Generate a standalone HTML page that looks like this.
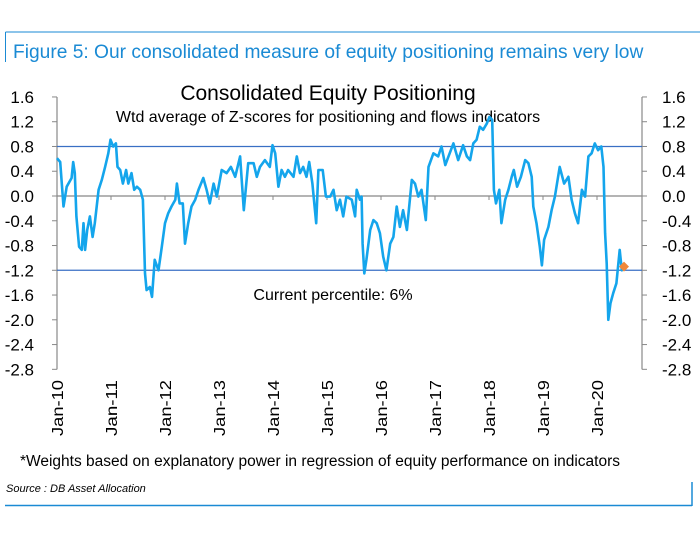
<!DOCTYPE html>
<html><head><meta charset="utf-8"><style>
body{margin:0;background:#fff;width:700px;height:536px;overflow:hidden;font-family:"Liberation Sans",sans-serif}
</style></head><body>
<svg width="700" height="536" viewBox="0 0 700 536" style="font-family:'Liberation Sans',sans-serif">
<g id="frame">
<line x1="5.5" y1="32" x2="700" y2="32" stroke="#1a8ad4" stroke-width="1"/>
<line x1="5.5" y1="32" x2="5.5" y2="62" stroke="#1a8ad4" stroke-width="1"/>
<line x1="5" y1="505.5" x2="692" y2="505.5" stroke="#1a8ad4" stroke-width="1.5"/>
<line x1="692" y1="482" x2="692" y2="506" stroke="#1a8ad4" stroke-width="1.5"/>
</g>
<text x="13" y="58" font-size="19.2" fill="#1a8ad4">Figure 5: Our consolidated measure of equity positioning remains very low</text>
<text x="328" y="100" font-size="21" text-anchor="middle" fill="#000">Consolidated Equity Positioning</text>
<text x="328" y="122" font-size="16" text-anchor="middle" fill="#000">Wtd average of Z-scores for positioning and flows indicators</text>
<text x="333" y="300" font-size="16" text-anchor="middle" fill="#000">Current percentile: 6%</text>
<text x="20" y="466" font-size="15.5" fill="#000" textLength="600" lengthAdjust="spacingAndGlyphs">*Weights based on explanatory power in regression of equity performance on indicators</text>
<text x="6" y="492" font-size="11" font-style="italic" fill="#000">Source : DB Asset Allocation</text>
<g id="chart"></g>
</svg>
<script>
const tickValues=[1.6,1.2,0.8,0.4,0.0,-0.4,-0.8,-1.2,-1.6,-2.0,-2.4,-2.8];
const tickLabels=["1.6","1.2","0.8","0.4","0.0","-0.4","-0.8","-1.2","-1.6","-2.0","-2.4","-2.8"];
const yearLabels=["Jan-10","Jan-11","Jan-12","Jan-13","Jan-14","Jan-15","Jan-16","Jan-17","Jan-18","Jan-19","Jan-20"];
const refLines=[0.8,-1.2];
const seriesT=[0.00,.06,.12,.18,.27,.30,.33,.36,.41,.46,.49,.52,.56,.61,.66,.70,.77,.83,.89,.95,.99,1.04,1.09,1.12,1.17,1.22,1.28,1.32,1.38,1.43,1.48,1.54,1.59,1.63,1.66,1.72,1.76,1.81,1.88,1.94,2.00,2.06,2.12,2.19,2.22,2.27,2.33,2.37,2.43,2.49,2.56,2.62,2.71,2.77,2.83,2.90,2.96,3.05,3.14,3.22,3.30,3.39,3.46,3.54,3.64,3.70,3.76,3.85,3.94,3.99,4.04,4.10,4.16,4.22,4.28,4.38,4.44,4.50,4.56,4.62,4.67,4.73,4.80,4.84,4.92,4.98,5.06,5.12,5.18,5.24,5.30,5.36,5.46,5.52,5.55,5.61,5.64,5.66,5.69,5.73,5.80,5.86,5.92,5.98,6.04,6.10,6.17,6.23,6.29,6.35,6.41,6.48,6.57,6.63,6.69,6.75,6.83,6.88,6.97,7.06,7.12,7.19,7.25,7.34,7.43,7.52,7.59,7.65,7.71,7.77,7.83,7.89,7.96,8.01,8.06,8.09,8.13,8.19,8.23,8.30,8.36,8.42,8.46,8.52,8.59,8.67,8.73,8.79,8.82,8.88,8.94,8.98,9.02,9.10,9.16,9.22,9.31,9.39,9.47,9.53,9.59,9.65,9.72,9.78,9.84,9.90,9.96,10.02,10.08,10.12,10.15,10.18,10.21,10.25,10.30,10.36,10.42,10.46,10.50];
const seriesV=[.61,.55,-.17,.15,.29,.55,.37,-.33,-.82,-.87,-.44,-.87,-.55,-.33,-.66,-.44,.10,.26,.47,.69,.91,.80,.85,.47,.42,.20,.42,.20,.37,.10,.15,.10,-.06,-1.25,-1.52,-1.47,-1.63,-1.03,-1.20,-.82,-.44,-.28,-.17,-.06,.20,-.12,-.12,-.77,-.44,-.17,-.06,.10,.29,.10,-.12,.20,-.01,.42,.37,.47,.31,.64,-.23,.53,.53,.31,.47,.58,.47,.82,.69,.15,.42,.31,.42,.31,.64,.37,.47,.31,.55,.20,-.44,.42,.42,-.01,-.01,.10,-.23,-.06,-.33,-.01,-.06,-.33,.10,-.06,-.01,-.77,-1.25,-1.03,-.55,-.39,-.44,-.60,-.98,-1.20,-.77,-.66,-.17,-.50,-.23,-.55,.26,.20,-.01,.10,-.39,.47,.69,.64,.80,.50,.64,.85,.58,.82,.64,.58,.85,.91,1.12,1.07,1.17,1.28,1.23,.10,-.12,.10,-.44,-.06,.10,.31,.42,.15,.31,.58,.53,.31,-.17,-.44,-.82,-1.12,-.71,-.50,-.23,-.01,.47,.20,.31,-.06,-.28,-.44,.10,-.01,.64,.69,.85,.74,.80,.47,-.60,-1.09,-2.00,-1.73,-1.57,-1.41,-.87,-1.20,-1.09];
const currentT=[10.50];
const currentV=[-1.14];

const X0=57,X1=642,PX_PER_YEAR=54,Y0=196,PX_PER_UNIT=61.9;
const xs=t=>X0+t*PX_PER_YEAR;
const ys=v=>Y0-v*PX_PER_UNIT;
const NS="http://www.w3.org/2000/svg";
const g=document.getElementById('chart');
function mk(tag,attrs,parent){const e=document.createElementNS(NS,tag);for(const k in attrs)e.setAttribute(k,attrs[k]);(parent||g).appendChild(e);return e;}
let e=mk('line',{x1:X0,y1:ys(1.6),x2:X0,y2:ys(-2.8),stroke:'#888','stroke-width':1.2});


e=mk('line',{x1:X1,y1:ys(1.6),x2:X1,y2:ys(-2.8),stroke:'#888','stroke-width':1.2});


e=mk('line',{x1:X0,y1:ys(0),x2:X1,y2:ys(0),stroke:'#888','stroke-width':1.2});


tickValues.forEach((v,i)=>{
  const y=ys(v);
  mk('line',{x1:X0-5,y1:y,x2:X0,y2:y,stroke:'#888'});
  mk('line',{x1:X1,y1:y,x2:X1+5,y2:y,stroke:'#888'});
  let t=mk('text',{x:34,y:y+6,'font-size':17,'text-anchor':'end'});t.textContent=tickLabels[i];
  
  
  t=mk('text',{x:662,y:y+6,'font-size':17});t.textContent=tickLabels[i];
  
  
});
yearLabels.forEach((lab,i)=>{
  const x=xs(i);
  mk('line',{x1:x,y1:ys(0),x2:x,y2:ys(0)+4,stroke:'#888'});
  const t=mk('text',{x:0,y:0,'font-size':15.5,'text-anchor':'start',textLength:56,lengthAdjust:'spacingAndGlyphs',transform:`translate(${x+6},436) rotate(-90)`});
  t.textContent=lab;
  
  
});
refLines.forEach(v=>{
  const l=mk('line',{x1:X0,y1:ys(v),x2:X1,y2:ys(v),stroke:'#3a6fc4','stroke-width':1.3});
  
  
});
const d=seriesT.map((t,i)=>(i?'L':'M')+xs(t).toFixed(1)+','+ys(seriesV[i]).toFixed(1)).join('');
const p=mk('path',{d:d,fill:'none',stroke:'#14a5ec','stroke-width':2.6,'stroke-linejoin':'round'});


currentT.forEach((t,i)=>{
  const cx=xs(t),cy=ys(currentV[i]);
  const m=mk('polygon',{points:`${cx},${cy-5} ${cx+5},${cy} ${cx},${cy+5} ${cx-5},${cy}`,fill:'#f0883a'});
  
  
});
</script>
</body></html>
